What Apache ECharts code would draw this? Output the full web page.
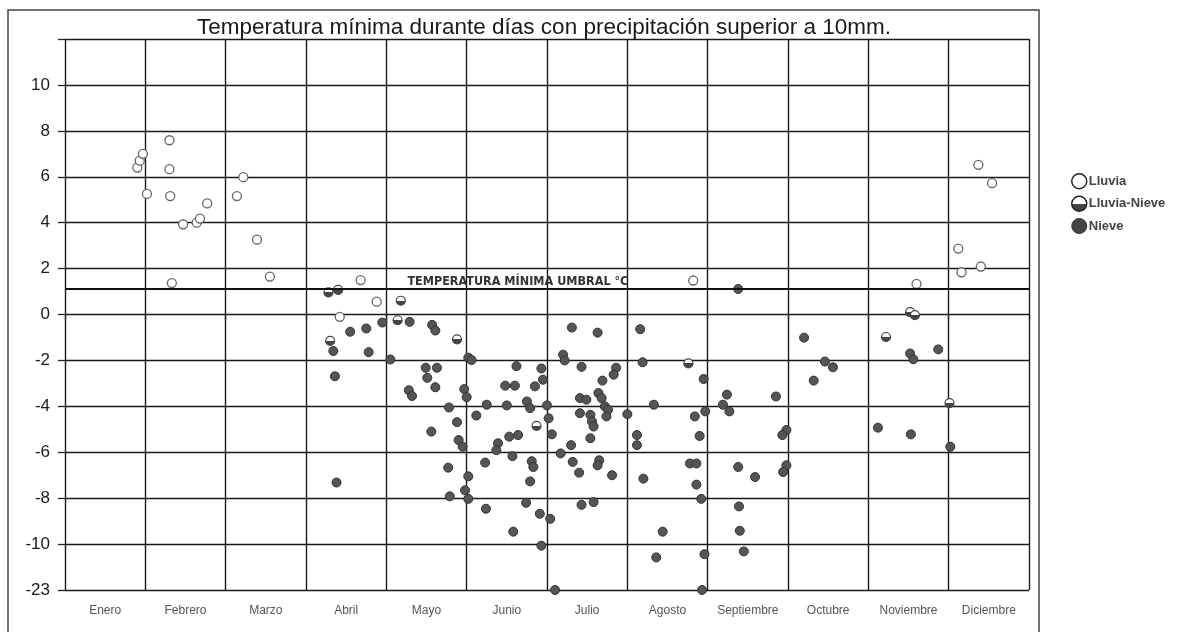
<!DOCTYPE html>
<html>
<head>
<meta charset="utf-8">
<script src="https://cdn.jsdelivr.net/npm/echarts@6/dist/echarts.min.js"></script>
<style>
html,body{margin:0;padding:0;background:#fff;}
#chart{width:1179px;height:632px;}
</style>
</head>
<body>
<div id="chart"></div>
<script>
// ---- data ----
const months = ['Enero','Febrero','Marzo','Abril','Mayo','Junio','Julio','Agosto','Septiembre','Octubre','Noviembre','Diciembre'];
const yTickLabels = {'-12':'-23','12':''};   // axis break: the bottom gridline stands for -23
const threshold = 1.1;
const thresholdLabel = 'TEMPERATURA MÍNIMA UMBRAL °C';
const titleText = 'Temperatura mínima durante días con precipitación superior a 10mm.';
// [month position (0-12), minimum temperature °C]
const lluvia = [
  [0.90,6.4],[0.93,6.7],[0.97,7.0],[1.02,5.25],[1.30,7.59],[1.30,6.33],[1.31,5.16],[1.47,3.93],
  [1.64,4.0],[1.68,4.18],[1.77,4.84],[1.33,1.37],[2.22,5.98],[2.14,5.16],[2.39,3.26],[2.55,1.65],
  [3.68,1.5],[3.88,0.56],[3.42,-0.1],[7.82,1.48],[11.37,6.52],[11.54,5.72],[11.12,2.87],
  [11.16,1.84],[11.40,2.09],[10.60,1.33]
];
const lluviaNieve = [
  [3.28,0.96],[3.40,1.07],[4.18,0.6],[4.14,-0.25],[3.30,-1.15],[4.88,-1.08],[10.22,-0.98],
  [10.52,0.1],[10.58,-0.03],[7.76,-2.13],[5.87,-4.85],[11.01,-3.86]
];
const nieve = [
  [3.55,-0.75],[3.75,-0.61],[3.95,-0.35],[4.29,-0.32],[3.34,-1.59],[3.78,-1.64],[4.05,-1.96],
  [3.36,-2.69],[3.38,-7.32],[4.57,-0.45],[4.61,-0.7],[4.49,-2.32],[4.63,-2.32],[4.51,-2.76],
  [4.61,-3.17],[4.28,-3.3],[4.32,-3.55],[4.56,-5.1],
  [5.02,-1.88],[5.06,-1.98],[5.62,-2.25],[5.93,-2.35],[5.95,-2.84],[5.48,-3.1],[5.60,-3.1],
  [5.85,-3.13],[4.97,-3.25],[5.00,-3.6],[4.78,-4.05],[4.88,-4.69],[5.25,-3.93],[5.12,-4.4],
  [5.50,-3.96],[5.75,-3.79],[5.79,-4.08],[6.0,-3.96],[6.02,-4.52],[6.06,-5.22],[5.53,-5.32],
  [5.64,-5.25],[4.90,-5.47],[4.95,-5.76],[5.39,-5.61],[5.37,-5.91],[5.57,-6.17],[5.81,-6.39],
  [5.83,-6.64],[5.23,-6.45],[4.77,-6.67],[5.02,-7.05],[5.79,-7.27],[4.98,-7.66],[5.02,-8.03],
  [4.79,-7.92],[5.74,-8.2],[5.24,-8.46],[5.91,-8.68],[6.04,-8.9],[5.58,-9.46],[5.93,-10.07],
  [6.10,-23],
  [6.31,-0.57],[6.63,-0.79],[7.16,-0.64],[6.20,-1.75],[6.22,-2.0],[6.43,-2.28],[6.86,-2.32],
  [6.83,-2.62],[6.69,-2.88],[7.19,-2.08],[7.95,-2.81],[6.41,-3.64],[6.49,-3.71],[6.64,-3.42],
  [6.68,-3.64],[6.72,-4.0],[6.76,-4.15],[6.41,-4.3],[6.54,-4.37],[6.56,-4.66],[6.58,-4.88],
  [6.74,-4.44],[7.0,-4.34],[7.33,-3.93],[7.84,-4.44],[7.97,-4.22],[6.54,-5.39],[6.30,-5.69],
  [7.12,-5.25],[7.12,-5.69],[7.90,-5.29],[6.17,-6.05],[6.32,-6.42],[6.65,-6.35],[6.63,-6.57],
  [6.40,-6.89],[6.81,-7.0],[7.20,-7.15],[7.78,-6.49],[7.86,-6.49],[7.86,-7.41],[7.92,-8.03],
  [6.43,-8.29],[6.58,-8.17],[7.44,-9.46],[7.36,-10.58],[7.96,-10.44],[7.93,-23],
  [8.38,1.11],[9.20,-1.01],[9.46,-2.05],[9.56,-2.3],[9.32,-2.88],[8.85,-3.57],[10.12,-4.93],
  [10.53,-5.22],[11.02,-5.76],[8.24,-3.49],[8.19,-3.93],[8.27,-4.22],[8.98,-5.03],[8.93,-5.25],
  [8.38,-6.64],[8.59,-7.08],[8.98,-6.57],[8.94,-6.86],[8.39,-8.36],[8.40,-9.42],[8.45,-10.32],
  [10.52,-1.7],[10.56,-1.95],[10.87,-1.52]
];

// ---- chart ----
const AXIS_MIN = -12, AXIS_MAX = 12;
const brk = arr => arr.map(p => [p[0], p[1] < AXIS_MIN ? AXIS_MIN : p[1]]);
const halfFill = new echarts.graphic.LinearGradient(0,0,0,1,[
  {offset:0,color:'#fff'},{offset:0.5,color:'#fff'},{offset:0.5,color:'#444'},{offset:1,color:'#444'}]);
const FONT = '"Liberation Sans", Arial, sans-serif';
const chart = echarts.init(document.getElementById('chart'));
chart.setOption({
  animation:false,
  backgroundColor:'#fff',
  title:{text:titleText,left:539,textAlign:'center',top:12,
    textStyle:{fontFamily:FONT,fontSize:22.5,fontWeight:'normal',color:'#1a1a1a',lineHeight:22}},
  graphic:[{type:'rect',shape:{x:8,y:10,width:1031,height:640},
    style:{fill:'none',stroke:'#444',lineWidth:1.5},silent:true}],
  legend:{orient:'vertical',left:1066,top:168,itemWidth:15,itemHeight:15,itemGap:6,
    textStyle:{fontFamily:FONT,fontSize:13,fontWeight:'bold',color:'#444',padding:[0,0,0,-3]},
    data:[
      {name:'Lluvia',icon:'circle',itemStyle:{color:'#fff',borderColor:'#222',borderWidth:1.5}},
      {name:'Lluvia-Nieve',icon:'circle',itemStyle:{color:halfFill,borderColor:'#222',borderWidth:1.5}},
      {name:'Nieve',icon:'circle',itemStyle:{color:'#444',borderColor:'#333',borderWidth:1}}
    ]},
  grid:{left:65,right:150,top:39,bottom:42},
  xAxis:[
    {type:'value',min:0,max:12,interval:1,
      axisLine:{show:false},
      axisTick:{show:true,length:5,lineStyle:{color:'#222',width:1.3}},
      axisLabel:{show:false},
      splitLine:{show:true,lineStyle:{color:'#1a1a1a',width:1.4}}},
    {type:'category',data:months,position:'bottom',boundaryGap:true,
      axisLine:{show:false},axisTick:{show:false},splitLine:{show:false},
      axisLabel:{margin:15,fontFamily:FONT,fontSize:12,color:'#555'}}
  ],
  yAxis:{type:'value',min:AXIS_MIN,max:AXIS_MAX,interval:2,
    axisLine:{show:false},
    axisTick:{show:true,length:7,lineStyle:{color:'#222',width:1.3}},
    axisLabel:{margin:15,fontFamily:FONT,fontSize:17,color:'#1a1a1a',
      formatter:v => (yTickLabels[String(v)] !== undefined ? yTickLabels[String(v)] : String(v))},
    splitLine:{show:true,lineStyle:{color:'#1a1a1a',width:1.4}}},
  series:[
    {name:'Lluvia',type:'scatter',xAxisIndex:0,data:brk(lluvia),symbol:'circle',symbolSize:9,
      itemStyle:{color:'#fff',borderColor:'#666',borderWidth:1.3,opacity:1},z:3},
    {name:'Lluvia-Nieve',type:'scatter',xAxisIndex:0,data:brk(lluviaNieve),symbol:'circle',symbolSize:9,
      itemStyle:{color:halfFill,borderColor:'#444',borderWidth:1.2,opacity:1},z:4},
    {name:'Nieve',type:'scatter',xAxisIndex:0,data:brk(nieve),symbol:'circle',symbolSize:9,
      itemStyle:{color:'#555',borderColor:'#333',borderWidth:1,opacity:1},z:4,
      markLine:{silent:true,symbol:'none',animation:false,
        lineStyle:{color:'#111',width:2.2,type:'solid'},
        label:{show:false},
        data:[{yAxis:threshold}]},
      markPoint:{silent:true,symbol:'circle',symbolSize:0,
        data:[{coord:[4.2,threshold],label:{show:true,position:'right',offset:[0,-7],
          formatter:thresholdLabel,fontFamily:'"DejaVu Sans Condensed", "DejaVu Sans", sans-serif',
          fontSize:12.5,fontWeight:'bold',color:'#333'}}]}}
  ]
});
</script>
</body>
</html>
